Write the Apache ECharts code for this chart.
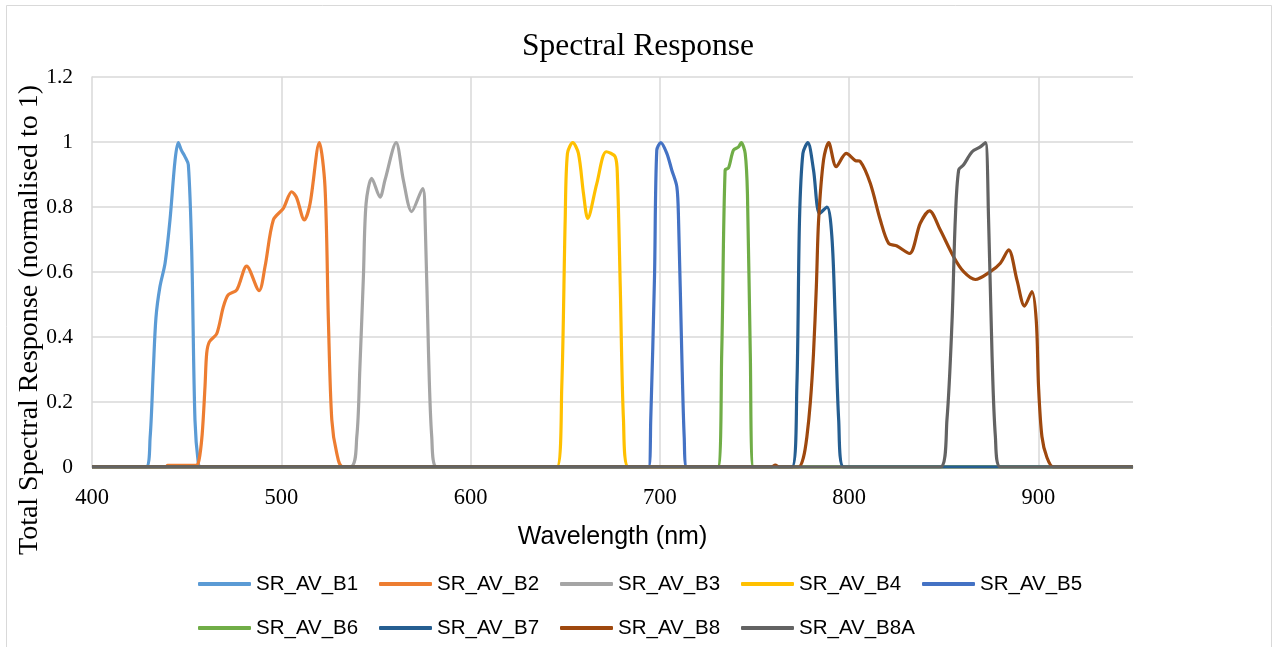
<!DOCTYPE html>
<html><head><meta charset="utf-8">
<script src="https://cdn.jsdelivr.net/npm/echarts@6/dist/echarts.min.js"></script>
<style>html,body{margin:0;padding:0;background:#fff}#c{width:1276px;height:647px}</style>
</head><body><div id="c"></div>
<script>
const seriesNames = ['SR_AV_B1','SR_AV_B2','SR_AV_B3','SR_AV_B4','SR_AV_B5','SR_AV_B6','SR_AV_B7','SR_AV_B8','SR_AV_B8A'];
const seriesColors = ['#5B9BD5','#ED7D31','#A5A5A5','#FFC000','#4472C4','#70AD47','#255E91','#9E480E','#636363'];
const yTickLabels = ['0','0.2','0.4','0.6','0.8','1','1.2'];

const b1Wl  = [400, 428.5, 430.7, 432.4, 433.8, 435.9, 438.6, 441.2, 443.9, 445.6, 447.2, 449.1, 450.9, 452.7, 454.4, 456.2, 457.5, 950];
const b1Val = [0,   0,     0.09,  0.30,  0.46,  0.555, 0.627, 0.76,  0.945, 0.998, 0.975, 0.955, 0.93,  0.66,  0.145, 0.01,  0,     0];

const b2Wl  = [400, 439, 440,   455,   456.5, 458.2, 459.7, 460.6, 462,   465.9, 469.4, 472,  476.5, 481.7, 488.3, 491.4, 495.8, 501.1, 505.5, 508,  512.2, 515.2, 520.1, 523.1, 524.9, 526.7, 529.3, 532.8, 950];
const b2Val = [0,   0,   0.005, 0.005, 0.02,  0.10,  0.247, 0.35,  0.385, 0.41,  0.493, 0.53, 0.545, 0.618, 0.543, 0.616, 0.76,  0.796, 0.847, 0.83, 0.76,  0.81,  0.998, 0.862, 0.45,  0.145, 0.043, 0,     0];

const b3Wl  = [400, 536.4, 539.9, 541.5, 543.4, 544.8, 547.8, 552.2, 554.8, 560.7, 564.5, 568.9, 574.7, 576,  577.8, 579.5, 582.2, 950];
const b3Val = [0,   0,     0.093, 0.30,  0.587, 0.81,  0.888, 0.83,  0.883, 0.998, 0.883, 0.786, 0.857, 0.76, 0.35,  0.093, 0,     0];

const b4Wl  = [400, 645.6, 648.2, 650,  651.2, 654,   657,   659.7, 661.9, 666.7, 671.7, 676.4, 677.6, 679.1, 680.8, 683.4, 950];
const b4Val = [0,   0,     0.247, 0.76, 0.965, 0.998, 0.965, 0.84,  0.765, 0.872, 0.97,  0.955, 0.893, 0.555, 0.145, 0,     0];

const b5Wl  = [400, 694, 695.2, 697.2, 698.4, 700.5, 703.7, 706.3, 709,   709.9, 711.6, 712.9, 714.3, 950];
const b5Val = [0,   0,   0.145, 0.587, 0.975, 0.998, 0.965, 0.914, 0.862, 0.76,  0.35,  0.09,  0,     0];

const b6Wl  = [400, 730.6, 732.7, 734.5, 736.3, 738.9, 741.6, 743,   745.1, 746.3, 747.8, 749.5, 950];
const b6Val = [0,   0,     0.35,  0.914, 0.92,  0.975, 0.985, 0.998, 0.965, 0.84,  0.35,  0,     0];

const b7Wl  = [400, 769.8, 772.4, 773.8, 775.6, 778.2, 781.2, 784.4, 788.3, 790.9, 792.7, 794.5, 797.1, 950];
const b7Val = [0,   0,     0.247, 0.76,  0.965, 0.998, 0.914, 0.78,  0.80,  0.709, 0.45,  0.145, 0,     0];

const b8Wl  = [400, 759, 761,   763, 773.3, 775.9, 777.7, 779.5, 781.2, 782.7, 783.9, 786.5, 789.2, 793.2, 798.5, 803.3, 805.9, 811.2, 816.5, 820.9, 825.3, 831.9, 837.6, 842.5, 848.2, 855.2, 860.5, 866.7, 874.6, 879.9, 884.3, 888.7, 892.7, 896.6, 898.9, 900.1, 901.9, 904.5, 908, 950];
const b8Val = [0,   0,   0.006, 0,   0,     0.03,  0.093, 0.197, 0.35,  0.555, 0.76,  0.945, 0.998, 0.924, 0.965, 0.943, 0.94,  0.873, 0.76,  0.688, 0.68,  0.657, 0.75,  0.788, 0.729, 0.647, 0.601, 0.577, 0.601, 0.627, 0.668, 0.575, 0.495, 0.54,  0.45,  0.247, 0.093, 0.03,  0,   0];

const b8aWl  = [400, 848.2, 851.7, 854.4, 856.1, 857.9, 860.5, 865,  869.3, 872,   873.7, 875.5, 877.3, 880, 950];
const b8aVal = [0,   0,     0.145, 0.45,  0.76,  0.914, 0.93,  0.97, 0.985, 0.998, 0.76,  0.35,  0.093, 0,   0];

const bandWl  = [b1Wl, b2Wl, b3Wl, b4Wl, b5Wl, b6Wl, b7Wl, b8Wl, b8aWl];
const bandVal = [b1Val, b2Val, b3Val, b4Val, b5Val, b6Val, b7Val, b8Val, b8aVal];

const chart = echarts.init(document.getElementById('c'), null, {renderer: 'canvas'});
const series = seriesNames.map((name, i) => ({
  name: name,
  type: 'line',
  data: bandWl[i].map((w, k) => [w, bandVal[i][k]]),
  smooth: 0.3,
  showSymbol: false,
  symbol: 'none',
  lineStyle: {color: seriesColors[i], width: 3.2},
  itemStyle: {color: seriesColors[i]},
  emphasis: {disabled: true}
}));

const legendCommon = {
  left: 198,
  padding: 0,
  orient: 'horizontal',
  icon: 'roundRect',
  itemWidth: 53,
  itemHeight: 4,
  itemGap: 10,
  textStyle: {fontFamily: 'Liberation Sans', fontSize: 20.5, color: '#000', width: 113, lineHeight: 22},
  selectedMode: false
};

chart.setOption({
  animation: false,
  backgroundColor: '#fff',
  title: {
    text: 'Spectral Response',
    left: 'center',
    top: 26,
    textStyle: {fontFamily: 'Liberation Serif', fontSize: 31.5, fontWeight: 'normal', color: '#000'}
  },
  legend: [
    Object.assign({}, legendCommon, {top: 573, data: seriesNames.slice(0, 5)}),
    Object.assign({}, legendCommon, {top: 617, data: seriesNames.slice(5)})
  ],
  grid: {left: 92, right: 143, top: 77, bottom: 180, containLabel: false},
  xAxis: {
    type: 'value',
    min: 400,
    max: 950,
    interval: 100,
    name: 'Wavelength (nm)',
    nameLocation: 'middle',
    nameGap: 58,
    nameTextStyle: {fontFamily: 'Liberation Sans', fontSize: 25, color: '#000'},
    axisLine: {show: true, lineStyle: {color: '#D9D9D9', width: 1.5}},
    axisTick: {show: false},
    axisLabel: {fontFamily: 'Liberation Serif', fontSize: 22.5, color: '#000', margin: 20, showMaxLabel: false},
    splitLine: {show: true, showMaxLine: false, showMinLine: false, lineStyle: {color: '#D9D9D9', width: 1.5}}
  },
  yAxis: {
    type: 'value',
    min: 0,
    max: 1.2,
    interval: 0.2,
    axisLine: {show: true, lineStyle: {color: '#D9D9D9', width: 1.5}},
    axisTick: {show: false},
    axisLabel: {
      fontFamily: 'Liberation Serif', fontSize: 21.5, color: '#000', margin: 19,
      formatter: (v) => yTickLabels[Math.round(v / 0.2)]
    },
    splitLine: {show: true, lineStyle: {color: '#D9D9D9', width: 1.5}}
  },
  graphic: [
    {type: 'rect', shape: {x: 6.5, y: 5.5, width: 1265, height: 700}, style: {fill: 'none', stroke: '#D9D9D9', lineWidth: 1}, silent: true, z: -10},
    {type: 'text', x: 30, y: 320, rotation: Math.PI / 2,
     style: {text: 'Total Spectral Response (normalised to 1)', font: '28px "Liberation Serif"', fill: '#000', align: 'center', verticalAlign: 'middle'}}
  ],
  series: series
});
</script>
</body></html>
